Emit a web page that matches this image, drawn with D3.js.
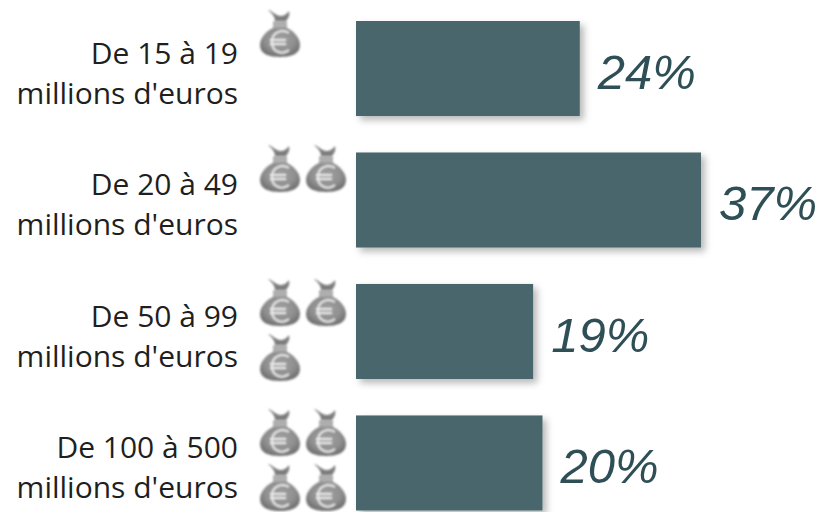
<!DOCTYPE html>
<html lang="fr">
<head>
  <meta charset="UTF-8" />
  <script src="https://d3js.org/d3.v7.min.js"></script>
  <title>Chiffre d'affaires</title>
  <style>
    html, body { margin: 0; background: #fff; }
    svg { display: block; }
  </style>
</head>
<body>
  <svg width="821" height="512"></svg>
  <script>
    // Data
    const labelLine1 = ["De 15 à 19", "De 20 à 49", "De 50 à 99", "De 100 à 500"];
    const labelLine2 = ["millions d'euros", "millions d'euros", "millions d'euros", "millions d'euros"];
    const values = [24, 37, 19, 20];
    const bagCounts = [1, 2, 3, 4];

    const svg = d3.select("svg");
    const defs = svg.append("defs");

    // Bar shadow
    const shadow = defs.append("filter").attr("id", "shadow")
      .attr("x", "-5%").attr("y", "-5%").attr("width", "115%").attr("height", "125%");
    shadow.append("feDropShadow")
      .attr("dx", 4).attr("dy", 4).attr("stdDeviation", 3.5)
      .attr("flood-color", "#000").attr("flood-opacity", 0.28);

    // Soft edge for the bag icons, they look like scaled up bitmaps
    defs.append("filter").attr("id", "soft")
      .append("feGaussianBlur").attr("stdDeviation", 0.8);

    const bagFill = defs.append("radialGradient").attr("id", "bagFill")
      .attr("cx", "50%").attr("cy", "42%").attr("r", "58%");
    bagFill.append("stop").attr("offset", "0%").attr("stop-color", "#a2a2a2");
    bagFill.append("stop").attr("offset", "65%").attr("stop-color", "#8f8f8f");
    bagFill.append("stop").attr("offset", "100%").attr("stop-color", "#6e6e6e");

    // Money bag, drawn around (0,0)
    const bag = defs.append("g").attr("id", "bag").attr("filter", "url(#soft)");
    bag.append("path")
      .attr("d", "M-12,-24 C-9,-24 -5,-19 0,-18 C4,-18 7,-20 9,-23 C10,-20 9,-16 6,-13 L-5,-13 C-5,-17 -8,-21 -12,-24 Z")
      .attr("fill", "#7d7d7d");
    bag.append("path")
      .attr("d", "M-7,-13 L7,-13 L7,-6 L-7,-6 Z")
      .attr("fill", "#bdbdbd");
    bag.append("path")
      .attr("d", "M-7,-10.5 L7,-10.5 M-7,-7.5 L7,-7.5")
      .attr("stroke", "#8a8a8a").attr("stroke-width", 1);
    bag.append("path")
      .attr("d", "M-7,-6 C-13,-3 -20,3 -20,11 C-20,20 -11,23 0,23 C11,23 20,20 20,11 C20,3 13,-3 7,-6 Z")
      .attr("fill", "url(#bagFill)");
    bag.append("path")
      .attr("d", "M9,-1 C3,-5 -8,-3 -8,8 C-8,19 3,21 9,16 M-10,6 L6,6 M-10,10 L6,10")
      .attr("fill", "none").attr("stroke", "#ececec").attr("stroke-width", 2);

    const xScale = d3.scaleLinear().domain([0, 37]).range([356, 701]);
    const yScale = d3.scaleBand()
      .domain(values.map((d, i) => i))
      .range([21, 510.5])
      .paddingInner(0.277)
      .paddingOuter(0);

    const rows = svg.selectAll("g.row")
      .data(values)
      .enter()
      .append("g")
      .attr("class", "row");

    rows.append("rect")
      .attr("x", xScale(0))
      .attr("y", (d, i) => yScale(i))
      .attr("width", d => xScale(d) - xScale(0))
      .attr("height", yScale.bandwidth())
      .attr("fill", "#48666c")
      .attr("filter", "url(#shadow)");

    // Percent labels
    rows.append("text")
      .attr("x", d => xScale(d) + 18)
      .attr("y", (d, i) => yScale(i) + 68)
      .attr("font-family", "'Liberation Sans', Arial, sans-serif")
      .attr("font-style", "italic")
      .attr("font-size", 49)
      .attr("fill", "#2f4f56")
      .text(d => d + "%");

    // Category labels on two lines
    rows.append("text")
      .attr("x", 238)
      .attr("y", (d, i) => yScale(i) + 43)
      .attr("text-anchor", "end")
      .attr("font-family", "'Open Sans', sans-serif")
      .attr("font-size", 30)
      .attr("fill", "#1f1f1f")
      .text((d, i) => labelLine1[i]);

    rows.append("text")
      .attr("x", 238)
      .attr("y", (d, i) => yScale(i) + 83)
      .attr("text-anchor", "end")
      .attr("font-family", "'Open Sans', sans-serif")
      .attr("font-size", 30)
      .attr("fill", "#1f1f1f")
      .text((d, i) => labelLine2[i]);

    // Bags: two per line, the block of each row does not follow the bars exactly
    const bagX = d3.scalePoint().domain([0, 1]).range([280, 326]);
    const bagLine = d3.scalePoint().domain([0, 1]).range([0, 55]);
    const bagTop = d3.scaleOrdinal().domain([0, 1, 2, 3]).range([34, 169, 303, 433]);

    rows.each(function (d, i) {
      d3.select(this).selectAll("use")
        .data(d3.range(bagCounts[i]))
        .enter()
        .append("use")
        .attr("href", "#bag")
        .attr("x", k => bagX(k % 2))
        .attr("y", k => bagTop(i) + bagLine(Math.floor(k / 2)));
    });
  </script>
</body>
</html>
